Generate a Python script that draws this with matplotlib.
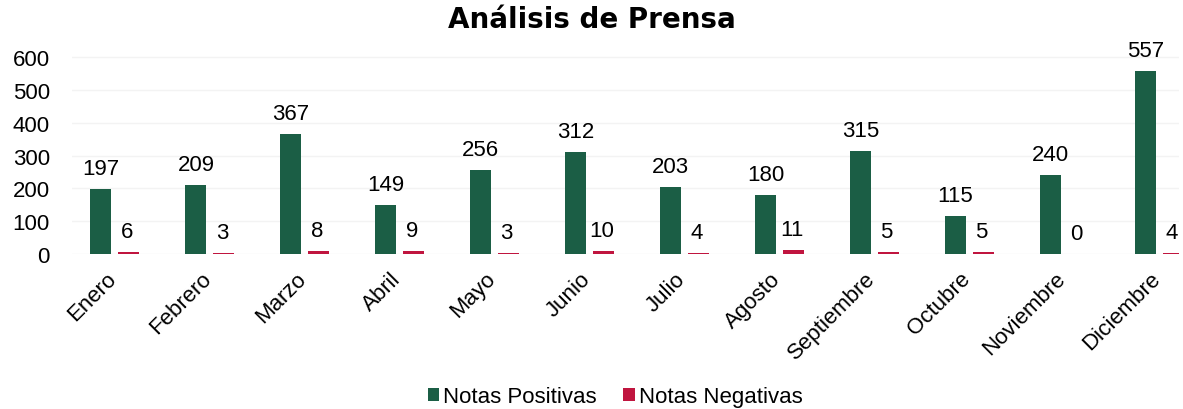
import numpy as np
import matplotlib
matplotlib.use('Agg')
import matplotlib.pyplot as plt

plt.rcParams['font.family'] = ['Liberation Sans', 'DejaVu Sans']

meses = ['Enero', 'Febrero', 'Marzo', 'Abril', 'Mayo', 'Junio', 'Julio',
         'Agosto', 'Septiembre', 'Octubre', 'Noviembre', 'Diciembre']
positivas = [197, 209, 367, 149, 256, 312, 203, 180, 315, 115, 240, 557]
negativas = [6, 3, 8, 9, 3, 10, 4, 11, 5, 5, 0, 4]

VERDE = '#1b5e45'
ROJO = '#c0153f'

fig = plt.figure(figsize=(11.83, 4.10), dpi=100)
ax = fig.add_axes([0.061, 0.378, 0.936, 0.512])

x = np.arange(len(meses))
w = 0.22
b1 = ax.bar(x - 0.147, positivas, w, color=VERDE, label='Notas Positivas', zorder=3)
b2 = ax.bar(x + 0.147, negativas, w, color=ROJO, label='Notas Negativas', zorder=3)

for rect, v in zip(b1, positivas):
    ax.annotate(str(v), (rect.get_x() + rect.get_width() / 2, v),
                xytext=(0, 10), textcoords='offset pixels',
                ha='center', va='bottom', fontsize=16)
for rect, v in zip(b2, negativas):
    ax.annotate(str(v), (rect.get_x() + rect.get_width() / 2, v),
                xytext=(-2, 10), textcoords='offset pixels',
                ha='center', va='bottom', fontsize=16, annotation_clip=False)

ax.set_ylim(0, 640)
ax.set_xlim(-0.45, 11.21)
ax.set_yticks(range(0, 601, 100))
ax.set_xticks(x - 0.1)
ax.set_xticklabels(meses, rotation=45, ha='right', rotation_mode='anchor', fontsize=16)
ax.tick_params(axis='y', labelsize=16, length=0, pad=16)
ax.tick_params(axis='x', length=0, pad=10)
ax.yaxis.grid(True, color='#f3f3f3', linewidth=1)
ax.set_axisbelow(True)
for s in ax.spines.values():
    s.set_visible(False)

fig.suptitle('Análisis de Prensa', fontsize=20, fontweight='bold', y=0.985,
             family='DejaVu Sans')
fig.legend(loc='lower center', bbox_to_anchor=(0.52, -0.045), ncol=2, frameon=False,
           fontsize=16, handlelength=0.5, handleheight=0.5, handletextpad=0.2,
           columnspacing=1.2)

plt.savefig('out.png')
